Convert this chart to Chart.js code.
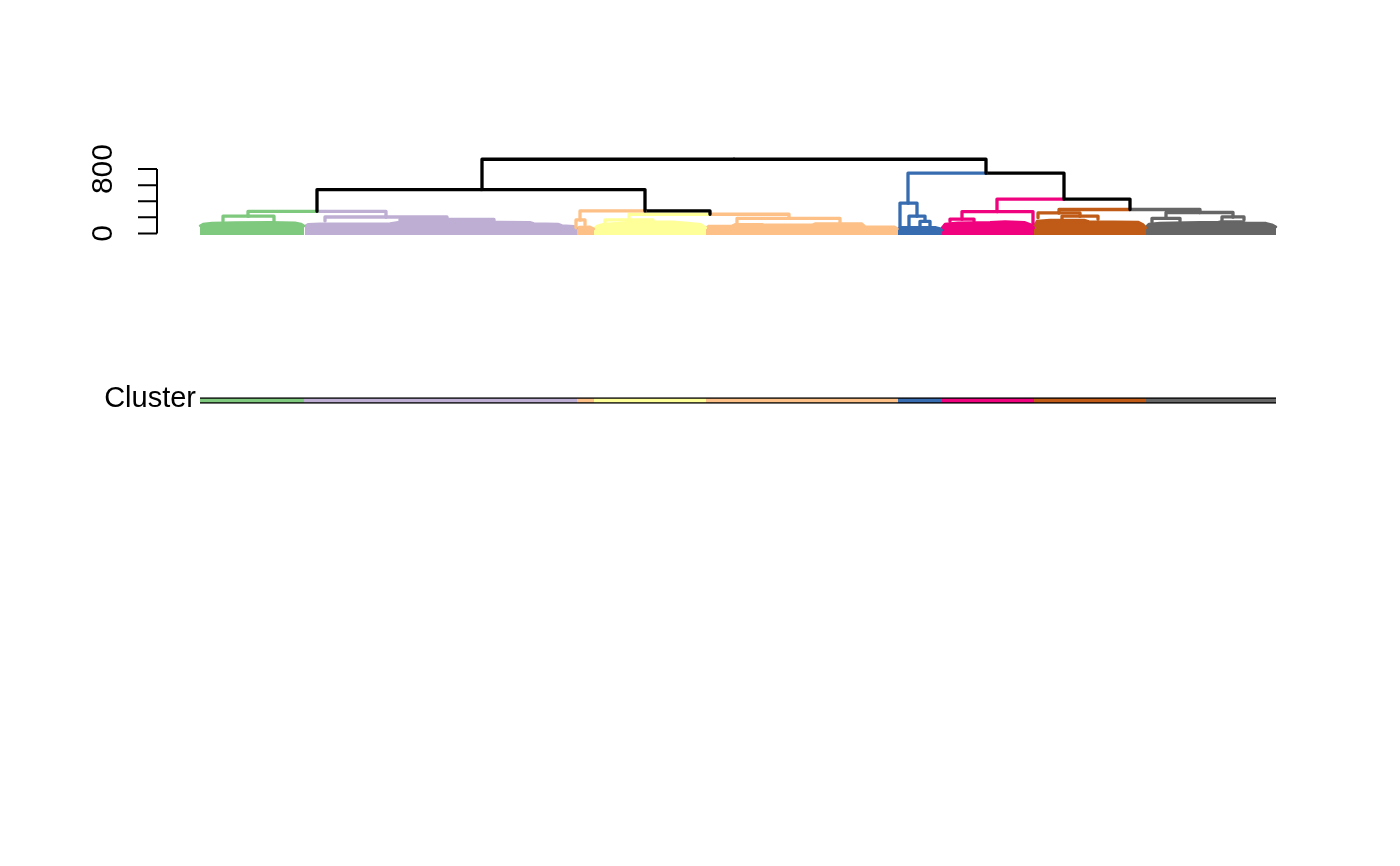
<!DOCTYPE html>
<html>
<head>
<meta charset="utf-8">
<title>Dendrogram with cluster bar</title>
<script src="https://cdn.jsdelivr.net/npm/chart.js@4.4.1/dist/chart.umd.min.js"></script>
<style>
  html, body { margin: 0; padding: 0; background: #fff; }
  #wrap { position: relative; width: 1400px; height: 866px; }
  #wrap canvas { position: absolute; left: 0; top: 0; }
</style>
</head>
<body>
<div id="wrap">
  <canvas id="dendro" width="1400" height="866"></canvas>
  <canvas id="bar" width="1400" height="866"></canvas>
</div>
<script>
// Clusters in leaf order (Accent palette, as in the picture)
const clusterColors = ['#7FC97F', '#BEAED4', '#FDC086', '#FFFF99', '#FDC086', '#386CB0', '#F0027F', '#BF5B17', '#666666'];
const clusterBounds = [0, 104, 377, 394, 506, 698, 742, 834, 946, 1076];
const barLabel = 'Cluster';

// Y axis ticks (merge height)
const yTicks = [0, 200, 400, 600, 800];

// Dendrogram merges: node height, left child (x, height), right child (x, height),
// and the cluster each child belongs to (-1 = above cluster cut, drawn black)
const linkHeight  = [922, 545, 275, 280, 238, 749, 427, 297, 214, 204, 173, 167, 167, 186, 377, 215, 150, 272, 178, 254, 215, 260, 188, 205];
const leftX       = [282, 117,  48, 380, 429, 708, 797, 859,  23, 125, 200, 376, 405, 537, 700, 709, 720, 762, 750, 838, 862, 966, 952, 1022];
const leftH       = [545, 275, 214, 167, 167, 377, 272, 254, 150, 155, 140,  70, 140, 126,  70,  90,  90, 178, 150, 195, 180, 188, 140, 165];
const rightX      = [786, 445, 186, 510, 589, 864, 930, 1000, 74, 247, 294, 385, 453, 640, 717, 725, 730, 833, 774, 880, 898, 1033, 980, 1044];
const rightH      = [749, 280, 204, 238, 186, 427, 297, 260, 148, 173, 150, 105, 150, 134, 215, 150,  90, 120, 155, 215, 175, 205, 150, 170];
const leftCluster = [-1, -1, 0, 2, 3, 5, 6, 7, 0, 1, 1, 2, 3, 4, 5, 5, 5, 6, 6, 7, 7, 8, 8, 8];
const rightCluster= [-1, -1, 1, -1, 4, -1, -1, 8, 0, 1, 1, 2, 3, 4, 5, 5, 5, 6, 6, 7, 7, 8, 8, 8];

// Dense low-level merges of each cluster, as the outline of the leaf mass
const leafMassX = [
  [0, 3, 12, 35, 70, 95, 101, 104],
  [105, 108, 120, 190, 198, 300, 330, 334, 358, 362, 374, 377],
  [377, 379, 390, 394],
  [394, 397, 404, 420, 430, 472, 488, 501, 506],
  [506, 509, 532, 535, 562, 565, 612, 615, 662, 665, 694, 698],
  [698, 700, 736, 740, 742],
  [742, 745, 758, 790, 805, 825, 831, 834],
  [834, 837, 850, 884, 889, 938, 943, 946],
  [946, 949, 960, 1000, 1018, 1021, 1042, 1046, 1066, 1072, 1076]
];
const leafMassH = [
  [95, 116, 128, 136, 138, 133, 118, 95],
  [90, 113, 120, 123, 138, 143, 138, 123, 118, 98, 88, 65],
  [55, 78, 82, 55],
  [60, 93, 118, 128, 146, 146, 128, 113, 70],
  [70, 93, 93, 114, 114, 106, 106, 122, 122, 86, 84, 60],
  [55, 75, 75, 62, 40],
  [70, 118, 133, 138, 148, 138, 108, 70],
  [90, 153, 166, 166, 148, 143, 113, 70],
  [80, 118, 130, 138, 138, 148, 148, 128, 128, 108, 80]
];

const FONT = '"Liberation Sans", Arial, sans-serif';
const colorOf = c => (c < 0 ? '#000000' : clusterColors[c]);

// Build datasets: each merge is two half-edges, coloured by the child they lead to
const datasets = [];
linkHeight.forEach((h, i) => {
  const mid = (leftX[i] + rightX[i]) / 2;
  const edge = (x, ch, c) => ({
    data: [{ x: mid, y: h }, { x: x, y: h }, { x: x, y: ch }],
    borderColor: colorOf(c),
    borderWidth: 3.3,
    borderJoinStyle: 'round',
    borderCapStyle: 'round',
    pointRadius: 0,
    fill: false,
    clip: false,
    order: 1
  });
  datasets.push(edge(leftX[i], leftH[i], leftCluster[i]));
  datasets.push(edge(rightX[i], rightH[i], rightCluster[i]));
});
leafMassX.forEach((xs, i) => {
  datasets.push({
    data: xs.map((x, k) => ({ x: x, y: leafMassH[i][k] })),
    borderColor: clusterColors[i],
    backgroundColor: clusterColors[i],
    borderWidth: 2.5,
    borderJoinStyle: 'round',
    borderCapStyle: 'round',
    pointRadius: 0,
    fill: 'start',
    clip: false,
    order: 2
  });
});

// R style axis: line only from first to last tick, rotated labels, overlapping labels dropped
const rAxis = {
  id: 'rAxis',
  afterDraw(chart) {
    const { ctx, chartArea } = chart;
    const y = chart.scales.y;
    const axisX = chartArea.left - 43;
    ctx.save();
    ctx.strokeStyle = '#000';
    ctx.lineWidth = 2;
    ctx.beginPath();
    ctx.moveTo(axisX, y.getPixelForValue(yTicks[0]));
    ctx.lineTo(axisX, y.getPixelForValue(yTicks[yTicks.length - 1]));
    yTicks.forEach(t => {
      const py = y.getPixelForValue(t);
      ctx.moveTo(axisX, py);
      ctx.lineTo(axisX - 19, py);
    });
    ctx.stroke();

    ctx.font = '30px ' + FONT;
    ctx.fillStyle = '#000';
    ctx.textAlign = 'center';
    ctx.textBaseline = 'alphabetic';
    const gap = ctx.measureText('m').width;
    let lastEdge = Infinity;
    yTicks.forEach(t => {
      const py = y.getPixelForValue(t);
      const label = String(t);
      const half = ctx.measureText(label).width / 2;
      if (py + half + gap > lastEdge) return;
      ctx.save();
      ctx.translate(axisX - 45, py);
      ctx.rotate(-Math.PI / 2);
      ctx.fillText(label, 0, 0);
      ctx.restore();
      lastEdge = py - half;
    });
    ctx.restore();
  }
};

new Chart(document.getElementById('dendro'), {
  type: 'line',
  data: { datasets: datasets },
  options: {
    responsive: false,
    animation: false,
    devicePixelRatio: 1,
    layout: { padding: { left: 200, right: 124, top: 153, bottom: 631 } },
    scales: {
      x: { type: 'linear', min: 0, max: 1076, display: false },
      y: { type: 'linear', min: -20, max: 1000, display: false }
    },
    plugins: { legend: { display: false }, tooltip: { enabled: false } }
  },
  plugins: [rAxis]
});

// Cluster colour bar under the tree
new Chart(document.getElementById('bar'), {
  type: 'bar',
  data: {
    labels: [barLabel],
    datasets: clusterColors.map((c, i) => ({
      data: [[clusterBounds[i], clusterBounds[i + 1]]],
      backgroundColor: c,
      borderColor: '#000',
      borderWidth: { top: 1.5, bottom: 1.5, left: 0, right: 0 },
      borderSkipped: false,
      barThickness: 6,
      grouped: false
    }))
  },
  options: {
    indexAxis: 'y',
    responsive: false,
    animation: false,
    devicePixelRatio: 1,
    layout: { padding: { left: 0, right: 124, top: 390.5, bottom: 455.5 } },
    scales: {
      x: { type: 'linear', min: 0, max: 1076, display: false },
      y: {
        grid: { display: false, drawTicks: false },
        border: { display: false },
        ticks: { color: '#000', padding: 4, labelOffset: -1.5, font: { size: 29, family: FONT } },
        afterFit(scale) { scale.width = 200; }
      }
    },
    plugins: { legend: { display: false }, tooltip: { enabled: false } }
  }
});
</script>
</body>
</html>
